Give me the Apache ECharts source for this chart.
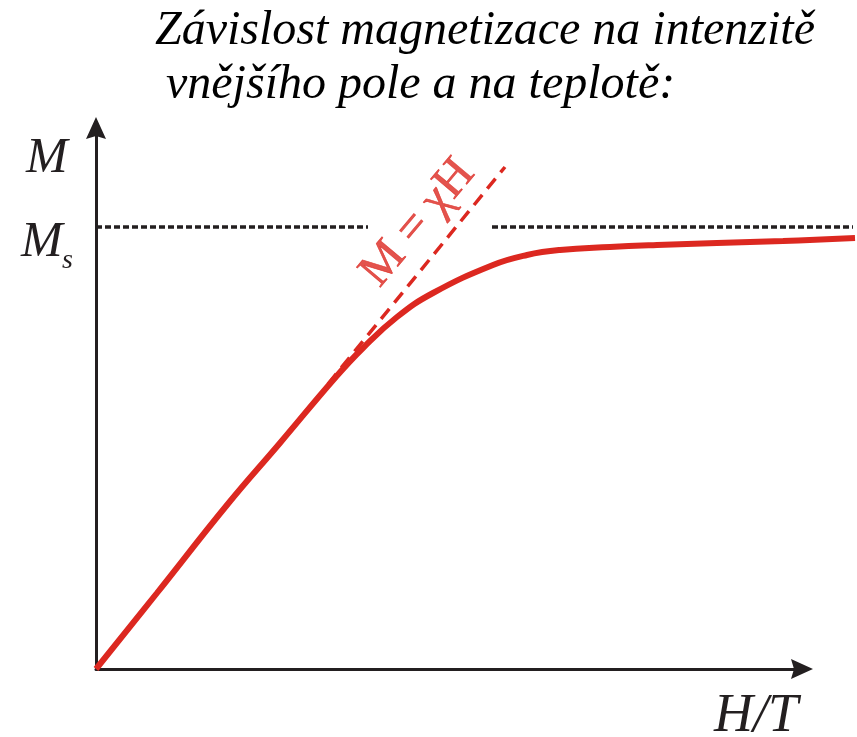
<!DOCTYPE html>
<html>
<head>
<meta charset="utf-8">
<script src="https://cdn.jsdelivr.net/npm/echarts@6/dist/echarts.min.js"></script>
<style>
  html, body { margin: 0; padding: 0; background: #fff; }
  #chart { width: 857px; height: 737px; }
</style>
</head>
<body>
<div id="chart"></div>
<script>
// magnetization curve (H offset, M offset)
const curveH = [0, 61, 131, 184, 239, 267, 301, 337, 397, 431, 464, 514, 561, 621, 687, 759];
const curveM = [0, 76, 164, 226, 291, 321, 352, 376, 404, 414, 419, 422, 424, 426, 428, 431];
// tangent M = chi*H
const tangentH = [232, 409];
const tangentM = [285, 502];
// saturation level Ms, drawn as two dashed pieces
const satM = 442;
const satLeftH = [0, 272];
const satRightH = [396, 757];
// position of the "M = χH" label
const tangentLabelPos = [322, 446];

const titleLines = ["Závislost magnetizace na intenzitě", "vnějšího pole a na teplotě:"];

const red = "#dc2820";
const ink = "#231f20";
const serif = "Liberation Serif";

const myChart = echarts.init(document.getElementById("chart"));

const arrowPath = "path://M10,0 L20,22 L10,19 L0,22 Z";

// hidden axes for the data grid
const hiddenAxis = {
  type: "value",
  min: 0,
  axisLine: { show: false },
  axisTick: { show: false },
  axisLabel: { show: false },
  splitLine: { show: false },
};
// visible axes with arrows
const arrowAxis = {
  type: "value",
  min: 0,
  axisLine: {
    show: true,
    symbol: ["none", arrowPath],
    symbolSize: [20, 22],
    lineStyle: { color: ink, width: 3 },
  },
  axisTick: { show: false },
  axisLabel: { show: false },
  splitLine: { show: false },
};

const option = {
  animation: false,
  grid: [
    // data area, runs to the right edge of the picture
    { left: 96, right: 0, top: 128, bottom: 68, outerBoundsMode: "none" },
    // axes, stop before the arrow heads
    { left: 96, right: 55, top: 128, bottom: 68, outerBoundsMode: "none" },
  ],
  xAxis: [
    Object.assign({}, hiddenAxis, { gridIndex: 0, max: 761 }),
    Object.assign({}, arrowAxis, { gridIndex: 1, max: 706 }),
  ],
  yAxis: [
    Object.assign({}, hiddenAxis, { gridIndex: 0, max: 541 }),
    Object.assign({}, arrowAxis, { gridIndex: 1, max: 541 }),
  ],
  graphic: [
    // title
    { type: "text", x: 155, y: 31, style: { text: titleLines[0], font: "italic 48px '" + serif + "'", fill: "#000", verticalAlign: "middle" } },
    { type: "text", x: 166, y: 85, style: { text: titleLines[1], font: "italic 48px '" + serif + "'", fill: "#000", verticalAlign: "middle" } },
    // axis names
    { type: "text", x: 26, y: 159, style: { text: "M", font: "italic 50px '" + serif + "'", fill: ink, verticalAlign: "middle" } },
    { type: "text", x: 21, y: 243, style: { text: "M", font: "italic 50px '" + serif + "'", fill: ink, verticalAlign: "middle" } },
    { type: "text", x: 62, y: 261, style: { text: "s", font: "italic 28px '" + serif + "'", fill: ink, verticalAlign: "middle" } },
    { type: "text", x: 714, y: 717, style: { text: "H/T", font: "italic 54px '" + serif + "'", fill: ink, verticalAlign: "middle" } },
  ],
  series: [
    {
      // Ms dashed line, left part
      type: "line",
      data: satLeftH.map((h) => [h, satM]),
      symbol: "none",
      lineStyle: { color: ink, width: 3.5, type: [6, 3] },
      z: 2,
    },
    {
      // Ms dashed line, right part
      type: "line",
      data: satRightH.map((h) => [h, satM]),
      symbol: "none",
      lineStyle: { color: ink, width: 3.5, type: [6, 3] },
      z: 2,
    },
    {
      // tangent M = chi H
      type: "line",
      data: tangentH.map((h, i) => [h, tangentM[i]]),
      symbol: "none",
      lineStyle: { color: red, width: 3.5, type: [13, 8] },
      z: 3,
    },
    {
      // magnetization curve
      type: "line",
      data: curveH.map((h, i) => [h, curveM[i]]),
      symbol: "none",
      smooth: 0.45,
      lineStyle: { color: red, width: 6 },
      z: 4,
    },
    {
      // label of the tangent
      type: "scatter",
      data: [tangentLabelPos],
      symbolSize: 0.1,
      itemStyle: { color: "transparent" },
      silent: true,
      label: {
        show: true,
        position: "inside",
        formatter: "M = χH",
        rotate: 50,
        fontFamily: serif,
        fontSize: 48,
        color: red,
        textBorderColor: red,
        textBorderWidth: 0.6,
      },
      z: 5,
    },
  ],
};

myChart.setOption(option);
window.addEventListener("resize", function () {
  myChart.resize();
});
</script>
</body>
</html>
